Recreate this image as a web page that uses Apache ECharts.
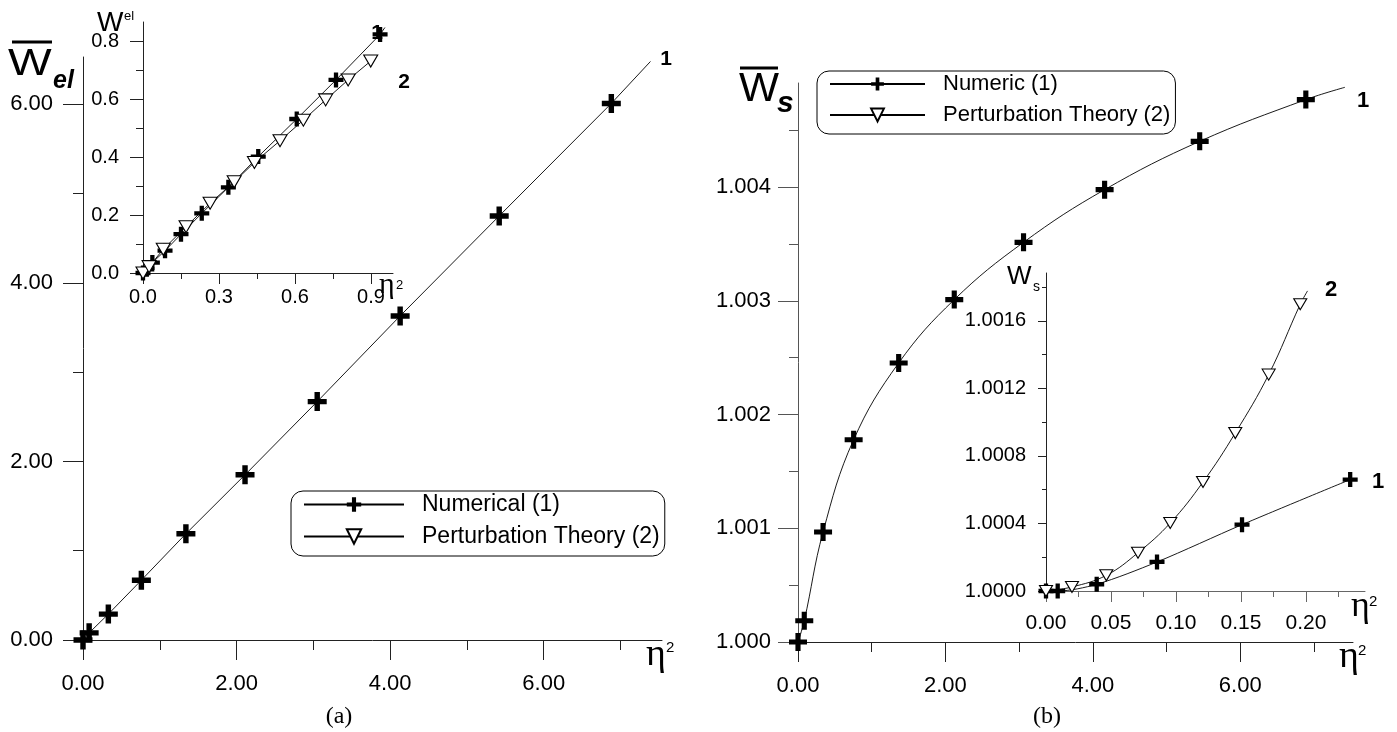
<!DOCTYPE html>
<html>
<head>
<meta charset="utf-8">
<script src="https://cdn.jsdelivr.net/npm/echarts@6/dist/echarts.min.js"></script>
<style>
html,body{margin:0;padding:0;background:#fff;}
#chart{width:1397px;height:732px;}
</style>
</head>
<body>
<div id="chart"></div>
<script>
// ---------- data ----------
// Panel (a), main: numerical
const aMainNumX = [0, 0.08, 0.33, 0.76, 1.34, 2.11, 3.05, 4.13, 5.42, 6.88];
const aMainNumY = [0, 0.08, 0.29, 0.67, 1.19, 1.85, 2.67, 3.63, 4.75, 6.01];
const aMainNumEnd = [7.39, 6.48];
// Panel (a), inset: numerical
const aInsNumX = [0, 0.015, 0.037, 0.087, 0.15, 0.232, 0.337, 0.455, 0.607, 0.762, 0.936];
const aInsNumY = [0, 0.013, 0.036, 0.077, 0.134, 0.206, 0.296, 0.402, 0.532, 0.667, 0.824];
const aInsNumEnd = [0.955, 0.848];
// Panel (a), inset: perturbation theory
const aInsPertX = [0, 0.024, 0.08, 0.17, 0.265, 0.36, 0.44, 0.541, 0.633, 0.721, 0.81, 0.899];
const aInsPertY = [0, 0.022, 0.082, 0.16, 0.241, 0.315, 0.382, 0.457, 0.528, 0.598, 0.667, 0.732];
const aInsPertEnd = [0.924, 0.752];
// Panel (b), main: numeric
const bMainNumX = [0, 0.085, 0.34, 0.755, 1.366, 2.12, 3.06, 4.16, 5.45, 6.89];
const bMainNumY = [1.0, 1.000187, 1.000967, 1.001779, 1.002454, 1.003011, 1.003515, 1.003978, 1.004403, 1.00477];
const bMainNumEnd = [7.42, 1.004878];
// Panel (b), inset: numeric
const bInsNumX = [0, 0.009, 0.039, 0.0854, 0.1508, 0.234];
const bInsNumY = [1.0, 1.0, 1.00004, 1.000172, 1.000393, 1.00066];
// Panel (b), inset: perturbation theory
const bInsPertX = [0, 0.02, 0.0464, 0.0708, 0.0956, 0.1208, 0.1456, 0.1713, 0.1956];
const bInsPertY = [1.0, 1.000024, 1.000093, 1.000227, 1.000403, 1.000646, 1.000936, 1.001282, 1.001699];
const bInsPertEnd = [0.2012, 1.001778];

// tick values
const aMainXTicks = [0, 2, 4, 6], aMainXMinor = [1, 3, 5, 7];
const aMainYTicks = [0, 2, 4, 6], aMainYMinor = [1, 3, 5];
const aInsXTicks = [0, 0.3, 0.6, 0.9], aInsXMinor = [0.15, 0.45, 0.75];
const aInsYTicks = [0, 0.2, 0.4, 0.6, 0.8], aInsYMinor = [0.1, 0.3, 0.5, 0.7];
const bMainXTicks = [0, 2, 4, 6], bMainXMinor = [1, 3, 5, 7];
const bMainYTicks = [1.000, 1.001, 1.002, 1.003, 1.004], bMainYMinor = [1.0005, 1.0015, 1.0025, 1.0035, 1.0045];
const bInsXTicks = [0, 0.05, 0.10, 0.15, 0.20], bInsXMinor = [0.025, 0.075, 0.125, 0.175, 0.225];
const bInsYTicks = [1.0000, 1.0004, 1.0008, 1.0012, 1.0016], bInsYMinor = [1.0002, 1.0006, 1.0010, 1.0014, 1.0018];

// legend names
const legendA = ['Numerical (1)', 'Perturbation Theory (2)'];
const legendB = ['Numeric (1)', 'Perturbation Theory (2)'];

// ---------- build ----------
const SANS = 'Liberation Sans, Arial, Helvetica, sans-serif';
const SERIF = 'Liberation Serif, Times New Roman, serif';
const PLUS = 'path://M0,2.5H2.5V0H4.5V2.5H7V4.5H4.5V7H2.5V4.5H0Z';

function zip(xs, ys, end) {
  const d = xs.map((x, i) => [x, ys[i]]);
  if (end) d.push({ value: end, symbol: 'none' });
  return d;
}

function axisPair(dim, gridIndex, o) {
  const pos = dim === 'x' ? 'bottom' : 'left';
  const base = { type: 'value', gridIndex: gridIndex, min: o.min, max: o.max, position: pos,
    splitLine: { show: false }, axisPointer: { show: false } };
  const main = Object.assign({}, base, {
    axisLine: { show: true, onZero: false, lineStyle: { color: o.color || '#222', width: 1 } },
    axisTick: { show: true, customValues: o.ticks, length: o.majorLen, lineStyle: { color: o.color || '#222', width: 1 } },
    axisLabel: { show: true, customValues: o.ticks, margin: o.margin, color: '#000', fontSize: o.fontSize,
      fontFamily: SANS, formatter: v => Number(v).toFixed(o.dec) }
  });
  const minor = Object.assign({}, base, {
    axisLine: { show: false, onZero: false },
    axisTick: { show: true, customValues: o.minor, length: o.minorLen, lineStyle: { color: o.color || '#222', width: 1 } },
    axisLabel: { show: false }
  });
  return [main, minor];
}

const grids = [
  { left: 83, top: 57, width: 579, height: 583 },    // a main
  { left: 143, top: 22, width: 250, height: 251 },   // a inset
  { left: 798, top: 83, width: 555, height: 559 },   // b main
  { left: 1046, top: 273, width: 319, height: 318 }  // b inset
];

const xAxes = [].concat(
  axisPair('x', 0, { min: 0, max: 7.54, ticks: aMainXTicks, minor: aMainXMinor, majorLen: 20, minorLen: 10, margin: 33, fontSize: 22, dec: 2 }),
  axisPair('x', 1, { min: 0, max: 0.987, ticks: aInsXTicks, minor: aInsXMinor, majorLen: 11, minorLen: 6, margin: 14, fontSize: 20, dec: 1 }),
  axisPair('x', 2, { min: 0, max: 7.53, ticks: bMainXTicks, minor: bMainXMinor, majorLen: 20, minorLen: 10, margin: 33, fontSize: 22, dec: 2 }),
  axisPair('x', 3, { min: 0, max: 0.2454, ticks: bInsXTicks, minor: bInsXMinor, majorLen: 11, minorLen: 6, margin: 22, fontSize: 21, dec: 2, color: '#666' })
);
const yAxes = [].concat(
  axisPair('y', 0, { min: 0, max: 6.53, ticks: aMainYTicks, minor: aMainYMinor, majorLen: 20, minorLen: 10, margin: 30, fontSize: 22, dec: 2 }),
  axisPair('y', 1, { min: 0, max: 0.867, ticks: aInsYTicks, minor: aInsYMinor, majorLen: 13, minorLen: 7, margin: 24, fontSize: 20, dec: 1 }),
  axisPair('y', 2, { min: 1.0, max: 1.004916, ticks: bMainYTicks, minor: bMainYMinor, majorLen: 20, minorLen: 9, margin: 27, fontSize: 22, dec: 3, color: '#555' }),
  axisPair('y', 3, { min: 1.0, max: 1.001884, ticks: bInsYTicks, minor: bInsYMinor, majorLen: 8, minorLen: 4, margin: 20, fontSize: 20, dec: 4 })
);

function plusSeries(name, data, gi, size, smooth) {
  return { type: 'line', name: name, data: data, xAxisIndex: gi * 2, yAxisIndex: gi * 2,
    symbol: PLUS, symbolSize: size, showAllSymbol: true, smooth: smooth,
    itemStyle: { color: '#000' }, lineStyle: { color: '#000', width: 0.9 },
    emphasis: { disabled: true }, animation: false, z: 3 };
}
function triSeries(name, data, gi, size, smooth) {
  return { type: 'line', name: name, data: data, xAxisIndex: gi * 2, yAxisIndex: gi * 2,
    symbol: 'triangle', symbolRotate: 180, symbolSize: size, showAllSymbol: true, smooth: smooth,
    itemStyle: { color: '#fff', borderColor: '#000', borderWidth: 1.1 }, lineStyle: { color: '#000', width: 0.9 },
    emphasis: { disabled: true }, animation: false, z: 4 };
}

const series = [
  plusSeries(legendA[0], zip(aMainNumX, aMainNumY, aMainNumEnd), 0, 19, false),
  plusSeries(legendA[0], zip(aInsNumX, aInsNumY, aInsNumEnd), 1, 15, false),
  triSeries(legendA[1], zip(aInsPertX, aInsPertY, aInsPertEnd), 1, [14, 12], false),
  plusSeries(legendB[0], zip(bMainNumX, bMainNumY, bMainNumEnd), 2, 18, 0.4),
  plusSeries(legendB[0], zip(bInsNumX, bInsNumY), 3, 15, 0.3),
  triSeries(legendB[1], zip(bInsPertX, bInsPertY, bInsPertEnd), 3, [13, 11], 0.4)
];

function txt(x, y, text, font, opts) {
  opts = opts || {};
  return { type: 'text', x: x, y: y, scaleX: opts.sx || 1, silent: true, z: 10,
    style: { text: text, font: font, fill: '#000', align: opts.align || 'left', textAlign: opts.align || 'left',
      verticalAlign: 'middle', textVerticalAlign: 'middle' } };
}
function bar(x1, x2, y) {
  return { type: 'line', silent: true, z: 10, shape: { x1: x1, y1: y, x2: x2, y2: y }, style: { stroke: '#000', lineWidth: 3 } };
}

const graphics = [
  // panel (a) main y name
  txt(8, 65, 'W', '37px ' + SANS, { sx: 1.25 }), bar(12, 52, 42),
  txt(53, 81, 'el', 'italic bold 25px ' + SANS),
  // panel (a) inset y name
  txt(97, 23, 'W', '28px ' + SANS), txt(124, 16, 'el', '13px ' + SANS),
  // panel (b) main y name
  txt(739, 90, 'W', '40px ' + SANS, { sx: 1.06 }), bar(740, 778, 68),
  txt(777, 104, 's', 'italic bold 30px ' + SANS),
  // panel (b) inset y name
  txt(1007, 277, 'W', '26px ' + SANS), txt(1033, 287, 's', '14px ' + SANS),
  // eta^2 axis names
  txt(646, 655, 'η', '38px ' + SERIF), txt(666, 648, '2', '15px ' + SANS),
  txt(379, 285, 'η', '30px ' + SERIF), txt(396, 285, '2', '13px ' + SANS),
  txt(1339, 657, 'η', '38px ' + SERIF), txt(1358, 651, '2', '15px ' + SANS),
  txt(1351, 607, 'η', '36px ' + SERIF), txt(1369, 602, '2', '15px ' + SANS),
  // curve numbers
  txt(666, 59, '1', 'bold 21px ' + SANS, { align: 'center' }),
  txt(377, 33, '1', 'bold 21px ' + SANS, { align: 'center' }),
  txt(404, 82, '2', 'bold 21px ' + SANS, { align: 'center' }),
  txt(1363, 101, '1', 'bold 22px ' + SANS, { align: 'center' }),
  txt(1331, 290, '2', 'bold 22px ' + SANS, { align: 'center' }),
  txt(1378, 482, '1', 'bold 22px ' + SANS, { align: 'center' }),
  // panel captions
  txt(339, 717, '(a)', '24px ' + SERIF, { align: 'center' }),
  txt(1047, 717, '(b)', '24px ' + SERIF, { align: 'center' })
];

const legendCommon = { orient: 'vertical', selectedMode: false, backgroundColor: '#fff',
  borderColor: '#000', borderWidth: 1, borderRadius: 12, symbolRotate: 'inherit' };

const option = {
  animation: false,
  backgroundColor: '#fff',
  textStyle: { fontFamily: SANS },
  grid: grids,
  xAxis: xAxes,
  yAxis: yAxes,
  legend: [
    Object.assign({}, legendCommon, { data: legendA, left: 291, top: 491, itemWidth: 100, itemHeight: 18, itemGap: 9, padding: [2, 5, 8, 12],
      textStyle: { fontSize: 23, color: '#000', fontFamily: SANS, padding: [0, 0, 0, 13] } }),
    Object.assign({}, legendCommon, { data: legendB, left: 817, top: 71, itemWidth: 95, itemHeight: 16, itemGap: 9, padding: [2, 5, 8, 12],
      textStyle: { fontSize: 22, color: '#000', fontFamily: SANS, padding: [0, 0, 0, 13] } })
  ],
  series: series,
  graphic: graphics
};

const chart = echarts.init(document.getElementById('chart'), null, { renderer: 'canvas' });
chart.setOption(option);
</script>
</body>
</html>
